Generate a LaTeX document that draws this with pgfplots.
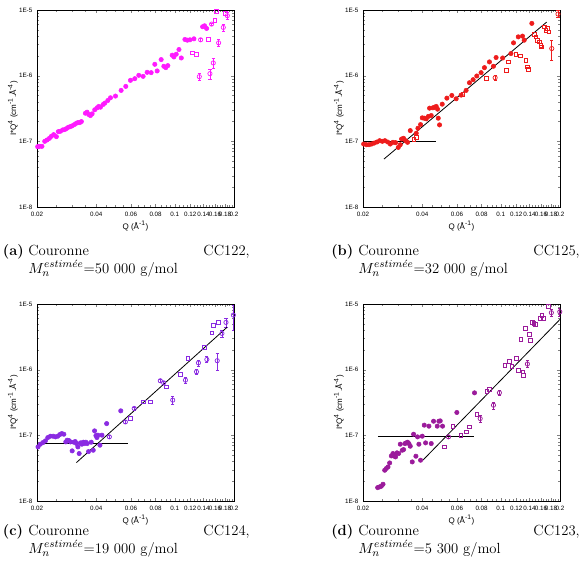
\documentclass[border=0pt]{standalone}
\usepackage{fontspec}
\usepackage{pgfplots}
\pgfplotsset{compat=1.18}
\newfontfamily\tickfont{Liberation Sans}
\newcommand\ticksize{\tickfont\fontsize{4.7}{5.5}\selectfont}
\newcommand\labsize{\tickfont\fontsize{6}{7}\selectfont}
\newcommand\capsize{\fontsize{11}{13}\selectfont}
\definecolor{cA}{HTML}{FF1AFF}
\definecolor{cB}{HTML}{EE1C1C}
\definecolor{cC}{HTML}{8A2BE2}
\definecolor{cD}{HTML}{9B1B9B}

% common look of the four log-log panels
\pgfplotsset{every axis/.append style={
    scale only axis, width=147.75pt, height=147.75pt,
    xmode=log, ymode=log,
    xmin=0.02, xmax=0.2, ymin=1e-8, ymax=1e-5,
    xtick={0.02,0.04,0.06,0.08,0.1,0.12,0.14,0.16,0.18,0.2},
    xticklabels={0.02,0.04,0.06,0.08,0.1,0.12,0.14,0.16,0.18,0.2},
    minor xtick={0.025,0.03,0.035,0.045,0.05,0.055,0.065,0.07,0.075,0.085,0.09,0.095,0.105,0.11,0.115,0.125,0.13,0.135,0.145,0.15,0.155,0.165,0.17,0.175,0.185,0.19,0.195},
    ytick={1e-8,1e-7,1e-6,1e-5},
    yticklabels={1E-8,1E-7,1E-6,1E-5},
    minor ytick={2e-8,3e-8,4e-8,5e-8,6e-8,7e-8,8e-8,9e-8,2e-7,3e-7,4e-7,5e-7,6e-7,7e-7,8e-7,9e-7,2e-6,3e-6,4e-6,5e-6,6e-6,7e-6,8e-6,9e-6},
    tick align=inside,
    major tick length=2.5pt, minor tick length=1.5pt,
    axis line style={line width=0.7pt},
    ticklabel style={font=\ticksize},
    label style={font=\labsize},
    xlabel={Q (Å\textsuperscript{-1})},
    ylabel={I*Q\textsuperscript{4} (cm\textsuperscript{-1}.Å\textsuperscript{-4})},
    xlabel style={at={(axis description cs:0.5,-0.097)}, anchor=center},
    ylabel style={at={(axis description cs:-0.122,0.5)}, anchor=center},
}}

\begin{document}
\begin{tikzpicture}

% ---------- (a) CC122 ----------
\begin{axis}[at={(27.75pt,-7.5pt)}, anchor=north west]
\addplot[only marks, mark=*, mark size=1.65pt, color=cA] table {
x y
0.02016 8.29e-8
0.02063 8.39e-8
0.02119 8.39e-8
0.02189 1.0e-7
0.02248 1.048e-7
0.02311 1.111e-7
0.02365 1.192e-7
0.02430 1.265e-7
0.02508 1.178e-7
0.02566 1.406e-7
0.02628 1.422e-7
0.02700 1.491e-7
0.02764 1.51e-7
0.02819 1.563e-7
0.02885 1.637e-7
0.02953 1.677e-7
0.03012 1.718e-7
0.03096 1.80e-7
0.03170 1.888e-7
0.03232 1.932e-7
0.03295 1.932e-7
0.03360 2.0e-7
0.03522 2.68e-7
0.03591 2.78e-7
0.03662 2.56e-7
0.03734 2.47e-7
0.03808 2.62e-7
0.03928 3.02e-7
0.04037 3.24e-7
0.04117 3.40e-7
0.04198 3.31e-7
0.04332 3.64e-7
0.04418 3.82e-7
0.04576 4.19e-7
0.04721 4.61e-7
0.05004 4.89e-7
0.05346 5.97e-7
0.05645 6.87e-7
0.05962 8.49e-7
0.06273 9.0e-7
0.06573 1.012e-6
0.06914 9.77e-7
0.07245 1.125e-6
0.07594 1.112e-6
0.07927 1.49e-6
0.08147 1.18e-6
0.08537 1.758e-6
0.08808 1.39e-6
0.09016 1.325e-6
0.09230 1.422e-6
0.09710 2.05e-6
0.09902 1.93e-6
0.1018 2.12e-6
0.1051 2.50e-6
0.1080 1.86e-6
0.1127 3.56e-6
0.1159 3.47e-6
0.1195 3.52e-6
0.1252 3.64e-6
0.1386 5.56e-6
0.1418 5.75e-6
0.1452 5.24e-6
};
\addplot[only marks, mark=square, mark size=1.4pt, mark options={line width=0.55pt}, color=cA] table {
x y
0.1228 2.22e-6
0.1292 2.10e-6
0.1481 3.60e-6
0.1601 7.03e-6
0.1633 9.43e-6
0.1814 8.89e-6
};
\addplot[only marks, mark=o, mark size=1.6pt, mark options={line width=0.55pt}, color=cA,
  error bars/.cd, y dir=both, y explicit,
  error bar style={line width=0.5pt},
  error mark options={rotate=90, mark size=1.2pt, line width=0.5pt}]
  table[x=x, y=y, y error=e] {
x y e
0.1333 9.66e-7 1.16e-7
0.1354 3.52e-6 1.4e-7
0.1510 1.073e-6 1.93e-7
0.1539 6.10e-6 2.4e-7
0.1570 1.563e-6 2.8e-7
0.1671 3.16e-6 3.8e-7
0.1765 5.43e-6 7.1e-7
0.1850 8.19e-6 9.0e-7
};
\end{axis}

% ---------- (b) CC125 ----------
\begin{axis}[at={(272.25pt,-7.5pt)}, anchor=north west]
\addplot[only marks, mark=*, mark size=1.65pt, color=cB] table {
x y
0.02016 9.10e-8
0.02079 8.89e-8
0.02145 8.89e-8
0.02212 9.10e-8
0.02282 9.42e-8
0.02355 9.77e-8
0.02429 1.023e-7
0.02506 1.0e-7
0.02585 1.023e-7
0.02667 9.77e-8
0.02751 9.10e-8
0.02838 9.66e-8
0.02928 9.55e-8
0.03021 8.09e-8
0.03092 8.89e-8
0.03141 1.086e-7
0.03214 1.111e-7
0.03290 1.023e-7
0.03368 9.66e-8
0.03475 1.456e-7
0.03727 1.325e-7
0.03800 1.58e-7
0.03920 1.80e-7
0.03998 2.28e-7
0.04092 2.25e-7
0.04189 2.20e-7
0.04288 2.39e-7
0.04355 3.20e-7
0.04441 2.47e-7
0.04528 3.24e-7
0.04617 3.31e-7
0.04708 3.40e-7
0.04782 3.09e-7
0.04819 2.25e-7
0.04894 1.78e-7
0.05048 3.68e-7
0.05331 4.55e-7
0.05649 5.0e-7
0.05943 4.45e-7
0.06297 5.06e-7
0.06675 5.97e-7
0.06942 7.81e-7
0.07245 8.69e-7
0.07561 9.89e-7
0.07952 1.112e-6
0.08268 1.325e-6
0.08766 1.62e-6
0.09185 1.39e-6
0.09475 1.89e-6
0.1023 1.86e-6
0.1127 2.17e-6
0.1162 3.16e-6
0.1228 3.90e-6
0.1290 4.0e-6
0.1316 3.47e-6
0.1439 6.26e-6
};
\addplot[only marks, mark=square, mark size=1.4pt, mark options={line width=0.55pt}, color=cB] table {
x y
0.03619 1.06e-7
0.03734 1.15e-7
0.0642 5.18e-7
0.0843 9.2e-7
0.1065 1.21e-6
0.1096 1.62e-6
0.1195 2.10e-6
0.1257 2.0e-6
0.1342 1.72e-6
0.1367 1.36e-6
0.1382 1.24e-6
0.1478 4.25e-6
0.1508 3.90e-6
0.1536 3.47e-6
0.1566 3.27e-6
0.1597 2.91e-6
0.1608 2.74e-6
0.1661 5.55e-6
0.1693 4.94e-6
0.1724 5.25e-6
0.1758 4.66e-6
};
\addplot[only marks, mark=o, mark size=1.6pt, mark options={line width=0.55pt}, color=cB,
  error bars/.cd, y dir=both, y explicit,
  error bar style={line width=0.5pt},
  error mark options={rotate=90, mark size=1.2pt, line width=0.5pt}]
  table[x=x, y=y, y error=e] {
x y e
0.0937 9.3e-7 7.4e-8
0.1816 2.59e-6 8.5e-7
0.1954 8.68e-6 1.04e-6
};
\addplot[black, line width=0.6pt] coordinates {(0.02555,5.37e-8) (0.1711,6.55e-6)};
\addplot[black, line width=0.6pt] coordinates {(0.02,9.9e-8) (0.0470,9.9e-8)};
\end{axis}

% ---------- (c) CC124 ----------
\begin{axis}[at={(27.75pt,-228pt)}, anchor=north west]
\addplot[only marks, mark=*, mark size=1.65pt, color=cC] table {
x y
0.02024 6.67e-8
0.02079 7.33e-8
0.02145 7.77e-8
0.02206 8.24e-8
0.02269 9.25e-8
0.02339 9.70e-8
0.02414 9.70e-8
0.02481 9.48e-8
0.02550 9.70e-8
0.02611 1.028e-7
0.02673 1.064e-7
0.02737 1.040e-7
0.02801 7.95e-8
0.02845 8.43e-8
0.02902 8.33e-8
0.02959 7.95e-8
0.03017 5.80e-8
0.03077 7.86e-8
0.03126 8.04e-8
0.03175 7.50e-8
0.03225 6.67e-8
0.03275 5.28e-8
0.03327 7.68e-8
0.03379 7.33e-8
0.03432 7.86e-8
0.03486 7.50e-8
0.03541 7.86e-8
0.03597 7.50e-8
0.03653 5.66e-8
0.03770 7.86e-8
0.03859 5.93e-8
0.03921 1.17e-7
0.03983 9.93e-8
0.04030 9.25e-8
0.04077 1.005e-7
0.04174 7.08e-8
0.04273 1.005e-7
0.04514 1.51e-7
0.05324 2.36e-7
};
\addplot[only marks, mark=square, mark size=1.4pt, mark options={line width=0.55pt}, color=cC] table {
x y
0.0594 1.80e-7
0.0695 3.24e-7
0.0751 3.24e-7
0.0907 5.48e-7
0.1069 8.45e-7
0.1165 1.48e-6
0.1417 2.18e-6
0.1545 3.65e-6
0.1576 4.68e-6
0.1670 5.19e-6
};
\addplot[only marks, mark=o, mark size=1.6pt, mark options={line width=0.55pt}, color=cC,
  error bars/.cd, y dir=both, y explicit,
  error bar style={line width=0.5pt},
  error mark options={rotate=90, mark size=1.2pt, line width=0.5pt}]
  table[x=x, y=y, y error=e] {
x y e
0.0466 9.48e-8 3.8e-9
0.0562 1.60e-7 8e-9
0.0623 2.57e-7 1.3e-8
0.0845 6.78e-7 3.4e-8
0.0879 6.31e-7 3.2e-8
0.0977 3.44e-7 5.2e-8
0.1134 6.93e-7 8.3e-8
0.1290 9.29e-7 9.3e-8
0.1320 1.27e-6 1.27e-7
0.1456 1.43e-6 1.43e-7
0.1644 1.37e-6 4.0e-7
0.1737 3.57e-6 4.3e-7
0.1821 5.25e-6 7.9e-7
0.1985 6.79e-6 2.85e-6
};
\addplot[black, line width=0.6pt] coordinates {(0.03172,3.85e-8) (0.1842,4.41e-6)};
\addplot[black, line width=0.6pt] coordinates {(0.0206,7.5e-8) (0.0582,7.5e-8)};
\end{axis}

% ---------- (d) CC123 ----------
\begin{axis}[at={(272.25pt,-228pt)}, anchor=north west]
\addplot[only marks, mark=*, mark size=1.65pt, color=cD] table {
x y
0.02374 1.60e-8
0.02429 1.64e-8
0.02477 1.68e-8
0.02527 1.80e-8
0.02577 2.94e-8
0.02625 3.12e-8
0.02679 3.30e-8
0.02731 3.80e-8
0.02785 4.86e-8
0.02838 5.28e-8
0.02883 4.81e-8
0.02928 4.70e-8
0.02974 5.41e-8
0.03032 5.28e-8
0.03092 7.33e-8
0.03165 5.93e-8
0.03214 6.07e-8
0.03265 7.50e-8
0.03316 7.68e-8
0.03368 7.86e-8
0.03420 7.50e-8
0.03475 6.83e-8
0.03557 3.94e-8
0.03613 1.040e-7
0.03712 4.81e-8
0.03785 9.48e-8
0.03844 7.33e-8
0.03920 4.18e-8
0.03998 9.70e-8
0.04092 1.43e-7
0.04157 7.68e-8
0.04321 1.38e-7
0.04441 7.50e-8
0.04563 1.64e-7
0.04763 1.38e-7
0.04856 1.64e-7
0.04932 1.66e-7
0.05068 1.38e-7
0.05990 2.23e-7
0.07363 4.44e-7
};
\addplot[only marks, mark=square, mark size=1.4pt, mark options={line width=0.55pt}, color=cD] table {
x y
0.05168 6.67e-8
0.0572 1.38e-7
0.0627 1.0e-7
0.0668 1.13e-7
0.0694 1.35e-7
0.0756 2.08e-7
0.0850 4.71e-7
0.0877 5.0e-7
0.1049 1.15e-6
0.1107 1.35e-6
0.1138 1.13e-6
0.1206 1.48e-6
0.1234 9.84e-7
0.1294 9.29e-7
0.1301 8.26e-7
0.1264 2.89e-6
0.1335 4.26e-6
0.1398 3.44e-6
0.1420 2.83e-6
0.1454 5.19e-6
0.1472 5.07e-6
0.1499 4.84e-6
0.1596 6.04e-6
0.1620 6.79e-6
0.1646 6.04e-6
0.1746 9.10e-6
};
\addplot[only marks, mark=o, mark size=1.6pt, mark options={line width=0.55pt}, color=cD,
  error bars/.cd, y dir=both, y explicit,
  error bar style={line width=0.5pt},
  error mark options={rotate=90, mark size=1.2pt, line width=0.5pt}]
  table[x=x, y=y, y error=e] {
x y e
0.0543 9.48e-8 3.8e-9
0.0787 1.80e-7 2.2e-8
0.0919 2.88e-7 3.5e-8
0.0985 4.45e-7 4.5e-8
0.1366 1.22e-6 1.46e-7
0.1808 7.38e-6 8.9e-7
0.1995 7.60e-6 1.14e-6
};
\addplot[black, line width=0.6pt] coordinates {(0.04027,4.18e-8) (0.2,5.83e-6)};
\addplot[black, line width=0.6pt] coordinates {(0.02383,9.49e-8) (0.0736,9.49e-8)};
\end{axis}

% ---------- captions ----------
\begin{scope}[every node/.style={anchor=base west, inner sep=0pt, font=\capsize}]
\node at (2pt,-191.5pt) {\textbf{(a)}};
\node at (21pt,-191.5pt) {Couronne};
\node[anchor=base east] at (187.5pt,-191.5pt) {CC122,};
\node at (21pt,-204.75pt) {$M_n^{estim\acute{e}e}$=50~000 g/mol};
\node at (248.25pt,-191.5pt) {\textbf{(b)}};
\node at (268.5pt,-191.5pt) {Couronne};
\node[anchor=base east] at (435pt,-191.5pt) {CC125,};
\node at (268.5pt,-204.75pt) {$M_n^{estim\acute{e}e}$=32~000 g/mol};
\node at (2pt,-401.5pt) {\textbf{(c)}};
\node at (21pt,-401.5pt) {Couronne};
\node[anchor=base east] at (187.5pt,-401.5pt) {CC124,};
\node at (21pt,-414.75pt) {$M_n^{estim\acute{e}e}$=19~000 g/mol};
\node at (248.25pt,-401.5pt) {\textbf{(d)}};
\node at (268.5pt,-401.5pt) {Couronne};
\node[anchor=base east] at (435pt,-401.5pt) {CC123,};
\node at (268.5pt,-414.75pt) {$M_n^{estim\acute{e}e}$=5~300 g/mol};
\end{scope}

\pgfresetboundingbox
\path[use as bounding box] (0,0) rectangle (437.25pt,-431.25pt);
\end{tikzpicture}
\end{document}
